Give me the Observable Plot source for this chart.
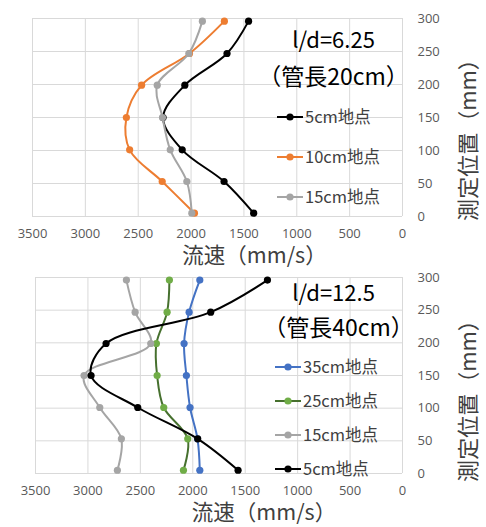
<!DOCTYPE html>
<html><head><meta charset="utf-8">
<script src="https://cdn.jsdelivr.net/npm/d3@7"></script>
<script src="https://cdn.jsdelivr.net/npm/@observablehq/plot@0.6"></script>
<style>
body{margin:0;background:#fff}
#chart{width:486px;height:527px;position:relative}
#chart svg{display:block}
</style>
</head><body><div id="chart"></div>
<script>
// measurement positions (mm)
const positions = [5, 53, 101, 150, 199, 247, 296];
const xTicks = [3500, 3000, 2500, 2000, 1500, 1000, 500, 0];
const yTicks = [0, 50, 100, 150, 200, 250, 300];

// top panel: l/d = 6.25 (pipe length 20cm)
const topNames = ["5cm地点", "10cm地点", "15cm地点"];
const top5cm  = [1408, 1688, 2084, 2265, 2059, 1660, 1456];
const top10cm = [1968, 2273, 2581, 2612, 2468, 2015, 1685];
const top15cm = [1993, 2040, 2197, 2270, 2320, 2021, 1893];
const topLineColors = ["#000000", "#ED7D31", "#A5A5A5"];
const topDotColors  = ["#000000", "#ED7D31", "#A5A5A5"];

// bottom panel: l/d = 12.5 (pipe length 40cm)
const botNames = ["35cm地点", "25cm地点", "15cm地点", "5cm地点"];
const bot35cm = [1933, 1955, 2026, 2061, 2083, 2035, 1933];
const bot25cm = [2089, 2048, 2277, 2340, 2347, 2245, 2223];
const bot15cm = [2719, 2681, 2887, 3037, 2401, 2550, 2633];
const bot5cm  = [1568, 1953, 2525, 2970, 2827, 1829, 1288];
const botLineColors = ["#4472C4", "#46702E", "#A5A5A5", "#000000"];
const botDotColors  = ["#4472C4", "#70AD47", "#A5A5A5", "#000000"];

const xTitle = "流速（mm/s）";
const yTitle = "測定位置（mm）";

const FONT = "'Noto Sans CJK JP', sans-serif";
const NUMFONT = "'Open Sans', sans-serif";

function panel(cfg) {
  const marks = [
    Plot.gridX(xTicks, {stroke: "#d9d9d9", strokeOpacity: 1, strokeWidth: 1}),
    Plot.gridY(yTicks, {stroke: "#d9d9d9", strokeOpacity: 1, strokeWidth: 1})
  ];
  cfg.values.forEach((vals, i) => {
    const rows = positions.map((p, j) => ({v: vals[j], p}));
    marks.push(Plot.line(rows, {x: "v", y: "p", stroke: cfg.lineColors[i], strokeWidth: 2, curve: "catmull-rom"}));
    marks.push(Plot.dot(rows, {x: "v", y: "p", fill: cfg.dotColors[i], r: 3.6}));
  });
  const txt = {textAnchor: "middle", lineAnchor: "middle", fontFamily: FONT};
  marks.push(
    Plot.axisX(xTicks, {tickSize: 0, tickPadding: 12, fontSize: 13, fill: "#595959", fontFamily: NUMFONT, label: null, tickFormat: d => String(d)}),
    Plot.axisY(yTicks, {anchor: "right", tickSize: 0, tickPadding: 15, fontSize: 13, fill: "#595959", fontFamily: NUMFONT, label: null, tickFormat: d => String(d)}),
    Plot.text([xTitle], {...txt, text: d => d, frameAnchor: "bottom", dx: cfg.xtDx, dy: cfg.xtDy, fontSize: 21.5, fill: "#404040"}),
    Plot.text([yTitle], {...txt, text: d => d, frameAnchor: "right", dx: 66, dy: cfg.ytDy, rotate: -90, fontSize: 22, fill: "#404040"}),
    Plot.text([cfg.ann1], {...txt, text: d => d, frameAnchor: "top-left", dx: cfg.a1x, dy: cfg.a1y, fontSize: 22, fill: "#000"}),
    Plot.text([cfg.ann2], {...txt, text: d => d, frameAnchor: "top-left", dx: cfg.a2x, dy: cfg.a2y, fontSize: 23, fill: "#000"})
  );
  const svg = Plot.plot({
    width: 486, height: cfg.height,
    marginTop: cfg.mt, marginBottom: cfg.mb, marginLeft: cfg.ml, marginRight: 84,
    x: {domain: [0, 3500], reverse: true},
    y: {domain: [0, 300]},
    style: {background: "#fff", fontFamily: FONT, overflow: "visible"},
    marks
  });
  // legend
  const g = d3.select(svg).append("g").attr("text-anchor", "start");
  cfg.legend.forEach((k, idx) => {
    const yy = cfg.legY[idx];
    g.append("line").attr("x1", cfg.legX).attr("x2", cfg.legX + 26).attr("y1", yy).attr("y2", yy)
      .attr("stroke", cfg.lineColors[k]).attr("stroke-width", 2);
    g.append("circle").attr("cx", cfg.legX + 13).attr("cy", yy).attr("r", 3.6).attr("fill", cfg.dotColors[k]);
    g.append("text").attr("x", cfg.legX + 28).attr("y", yy).attr("dy", "0.36em")
      .attr("text-anchor", "start")
      .attr("font-size", 16.5).attr("fill", "#404040").attr("font-family", FONT).text(cfg.names[k]);
  });
  return svg;
}

const topSvg = panel({
  height: 262, mt: 18, mb: 46, ml: 32,
  values: [top5cm, top10cm, top15cm],
  lineColors: topLineColors, dotColors: topDotColors, names: topNames,
  legend: [0, 1, 2], legX: 277, legY: [117, 157, 197],
  xtDx: 37, xtDy: 40, ytDy: 17,
  ann1: "l/d=6.25", a1x: 301, a1y: 22,
  ann2: "（管長20cm）", a2x: 301, a2y: 59
});
const botSvg = panel({
  height: 265, mt: 15, mb: 54, ml: 35,
  values: [bot35cm, bot25cm, bot15cm, bot5cm],
  lineColors: botLineColors, dotColors: botDotColors, names: botNames,
  legend: [0, 1, 2, 3], legX: 275, legY: [105, 139, 173, 207],
  xtDx: 45, xtDy: 40, ytDy: 20,
  ann1: "l/d=12.5", a1x: 298, a1y: 16,
  ann2: "（管長40cm）", a2x: 303, a2y: 51
});
document.getElementById("chart").append(topSvg, botSvg);
</script>
</body></html>
